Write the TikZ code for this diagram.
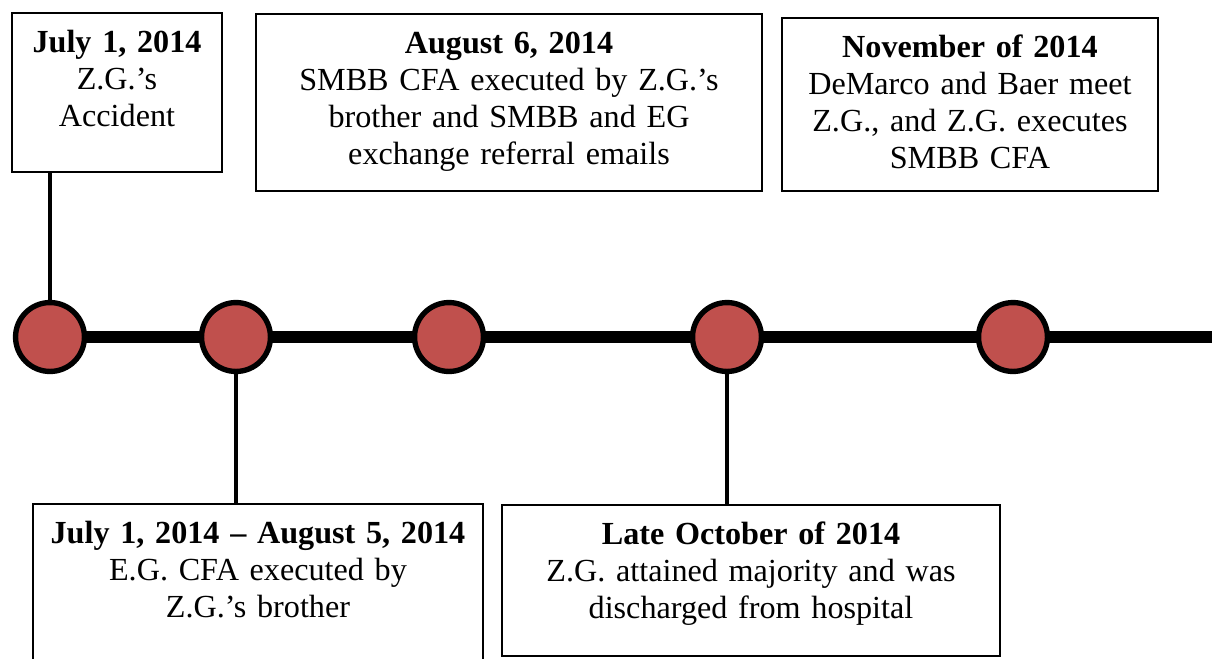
\documentclass[tikz,border=0pt]{standalone}
\usepackage{fontspec}
\setmainfont{Liberation Serif}
\usetikzlibrary{positioning, backgrounds}
\definecolor{dotred}{RGB}{192,80,77}

\begin{document}
\begin{tikzpicture}[x=0.373pt, y=-0.373pt, font=\fontsize{12}{13.8}\selectfont,
    event/.style={draw, line width=0.75pt, inner sep=0pt, anchor=north, align=center, text height=14.9pt},
    dot/.style={circle, draw, line width=2pt, fill=dotred, minimum size=25.7pt, inner sep=0pt},
    stem/.style={line width=1.5pt}]
            \useasboundingbox (0,0) rectangle (1212,658);
            % events above the line
            \node[event, text width=78.3pt, text depth=44.4pt] (acc) at (117,12)
                {\textbf{July 1, 2014}\\ Z.G.'s\\ Accident};
            \node[event, text width=189.1pt, text depth=51.1pt] (smbb) at (509,13)
                {\textbf{August 6, 2014}\\ SMBB CFA executed by Z.G.'s\\ brother and SMBB and EG\\ exchange referral emails};
            \node[event, text width=139.9pt, text depth=49.6pt] (meet) at (970,17)
                {\textbf{November of 2014}\\ DeMarco and Baer meet\\ Z.G., and Z.G. executes\\ SMBB CFA};
            % events below the line
            \node[event, text width=167.9pt, text depth=54.5pt] (egcfa) at (258,503)
                {\textbf{July 1, 2014 -- August 5, 2014}\\ E.G. CFA executed by\\ Z.G.'s brother};
            \node[event, text width=185.8pt, text depth=41.4pt] (late) at (751,504)
                {\textbf{Late October of 2014}\\ Z.G. attained majority and was\\ discharged from hospital};
            % timeline dots
            \foreach \x [count=\i] in {50,236,449,727,1013}
                \node[dot] (d\i) at (\x,337) {};
            \coordinate (tlend) at (1216,337);
            \begin{scope}[on background layer]
                \draw[line width=4.2pt] (d1.center) -- (tlend);
                \draw[stem] (d1.center) -- (d1 |- acc.south);
                \draw[stem] (d2.center) -- (d2 |- egcfa.north);
                \draw[stem] (d4.center) -- (d4 |- late.north);
            \end{scope}
\end{tikzpicture}
\end{document}
